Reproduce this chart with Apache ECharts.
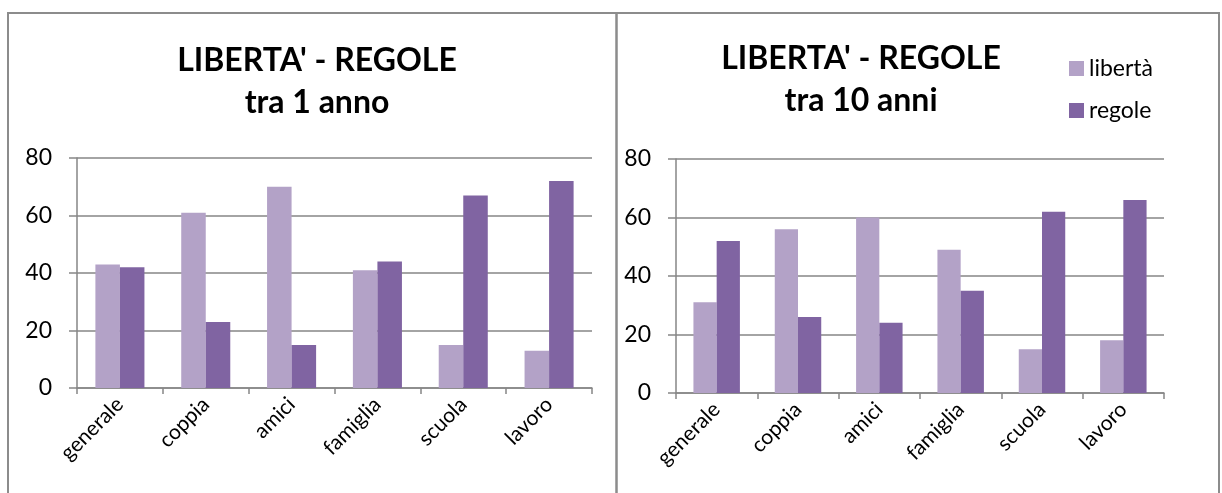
<!DOCTYPE html>
<html>
<head>
<meta charset="utf-8">
<script src="https://cdn.jsdelivr.net/npm/echarts@6/dist/echarts.min.js"></script>
<style>
  html, body { margin: 0; padding: 0; background: #fff; }
  #chart { width: 1222px; height: 493px; }
</style>
</head>
<body>
<div id="chart"></div>
<script>
// Categories and values for the two panels
const categories = ['generale', 'coppia', 'amici', 'famiglia', 'scuola', 'lavoro'];
const seriesNames = ['libertà', 'regole'];
const liberta1Anno = [43, 61, 70, 41, 15, 13];
const regole1Anno = [42, 23, 15, 44, 67, 72];
const liberta10Anni = [31, 56, 60, 49, 15, 18];
const regole10Anni = [52, 26, 24, 35, 62, 66];
const yTicks = [0, 20, 40, 60, 80];
const titles = ["LIBERTA' - REGOLE\ntra 1 anno", "LIBERTA' - REGOLE\ntra 10 anni"];

const colLiberta = '#B3A2C7';
const colRegole = '#8064A2';
const gridColor = '#868686';
const fontFam = 'Lato, "Open Sans", sans-serif';

function xAxis(idx) {
  return {
    type: 'category', gridIndex: idx, data: categories,
    axisLine: { lineStyle: { color: gridColor, width: 1.5 } },
    axisTick: { show: true, length: 6, lineStyle: { color: gridColor, width: 1.5 } },
    axisLabel: { rotate: 45, fontSize: 21, color: '#000', fontFamily: fontFam, margin: 13, interval: 0 }
  };
}
function yAxis(idx) {
  return {
    type: 'value', gridIndex: idx, min: yTicks[0], max: yTicks[yTicks.length - 1], interval: 20,
    axisLine: { show: true, lineStyle: { color: gridColor, width: 1.5 } },
    axisTick: { show: true, length: 8, lineStyle: { color: gridColor, width: 1.5 } },
    splitLine: { show: true, lineStyle: { color: gridColor, width: 1.5 } },
    axisLabel: { fontSize: 23, color: '#000', fontFamily: fontFam, margin: 25 }
  };
}
function bar(name, data, color, idx) {
  return {
    name: name, type: 'bar', xAxisIndex: idx, yAxisIndex: idx, data: data,
    itemStyle: { color: color }, barGap: '0%', barCategoryGap: '42.86%',
    emphasis: { disabled: true }
  };
}

const chart = echarts.init(document.getElementById('chart'), null, { renderer: 'canvas' });
chart.setOption({
  animation: false,
  backgroundColor: '#fff',
  graphic: [
    { type: 'rect', shape: { x: 8, y: 13, width: 608.5, height: 520 },
      style: { fill: 'none', stroke: '#8c8c8c', lineWidth: 2 }, z: -1 },
    { type: 'rect', shape: { x: 616.5, y: 13, width: 602.5, height: 520 },
      style: { fill: 'none', stroke: '#8c8c8c', lineWidth: 2 }, z: -1 }
  ],
  title: [
    { text: titles[0], left: 312, top: 35, textAlign: 'center',
      textStyle: { fontSize: 32, fontWeight: 'bold', fontFamily: fontFam, color: '#000', lineHeight: 42 } },
    { text: titles[1], left: 856, top: 33, textAlign: 'center',
      textStyle: { fontSize: 32, fontWeight: 'bold', fontFamily: fontFam, color: '#000', lineHeight: 42 } }
  ],
  legend: {
    data: seriesNames, orient: 'vertical', left: 1064, top: 52,
    icon: 'rect', itemWidth: 15, itemHeight: 15, itemGap: 19,
    textStyle: { fontSize: 23, fontFamily: fontFam, color: '#000' },
    selectedMode: false
  },
  grid: [
    { left: 77, top: 158, width: 515, height: 230 },
    { left: 676, top: 159, width: 488, height: 234 }
  ],
  xAxis: [xAxis(0), xAxis(1)],
  yAxis: [yAxis(0), yAxis(1)],
  series: [
    bar(seriesNames[0], liberta1Anno, colLiberta, 0),
    bar(seriesNames[1], regole1Anno, colRegole, 0),
    bar(seriesNames[0], liberta10Anni, colLiberta, 1),
    bar(seriesNames[1], regole10Anni, colRegole, 1)
  ]
});
</script>
</body>
</html>
